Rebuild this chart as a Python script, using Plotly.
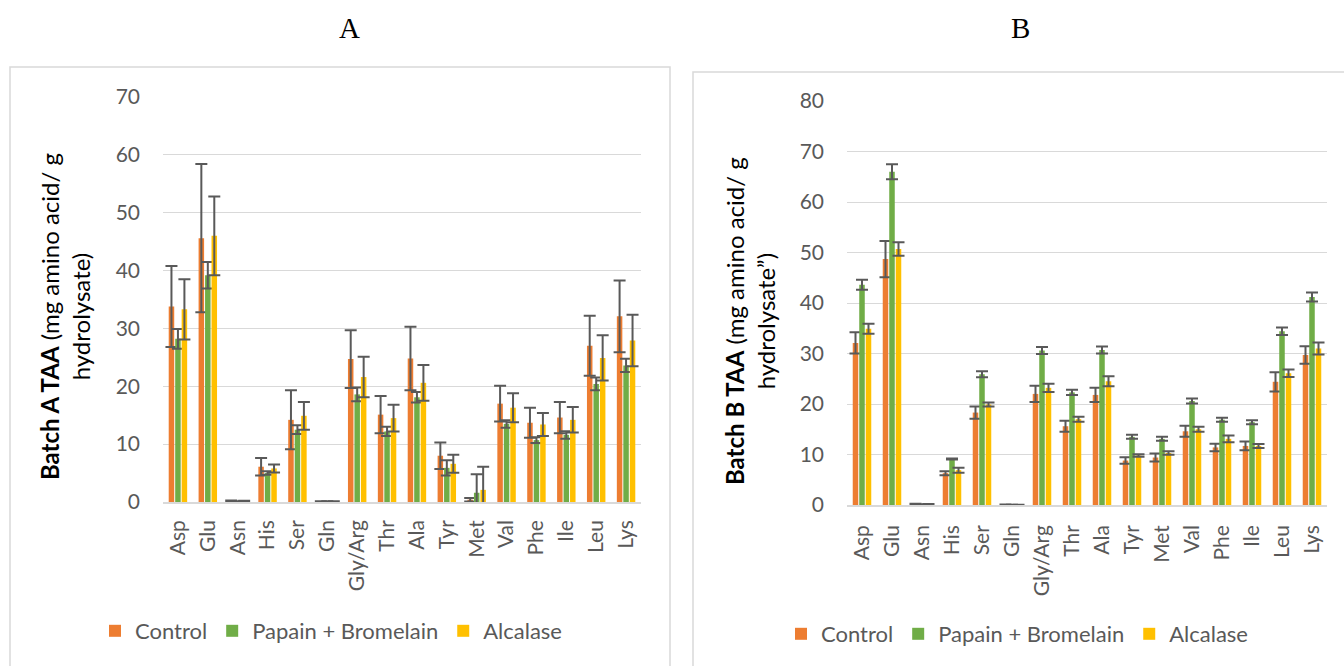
import plotly.graph_objects as go

amino = ["Asp", "Glu", "Asn", "His", "Ser", "Gln", "Gly/Arg", "Thr", "Ala", "Tyr",
         "Met", "Val", "Phe", "Ile", "Leu", "Lys"]
series = ["Control", "Papain + Bromelain", "Alcalase"]
colors = ["#ED7D31", "#70AD47", "#FFC000"]

a_control = [33.8, 45.6, 0.2, 6.1, 14.2, 0.1, 24.7, 15.1, 24.8, 8.0, 0.4, 17.0, 13.7, 14.6, 27.0, 32.1]
a_control_err = [7.0, 12.8, 0.05, 1.5, 5.1, 0.05, 5.0, 3.2, 5.5, 2.3, 0.3, 3.1, 2.6, 2.7, 5.2, 6.2]
a_papain = [28.2, 39.2, 0.1, 5.0, 12.5, 0.1, 18.6, 12.2, 18.1, 5.9, 1.6, 13.5, 10.7, 11.6, 20.4, 23.6]
a_papain_err = [1.7, 2.3, 0.05, 0.3, 0.75, 0.05, 1.2, 0.8, 0.9, 1.3, 3.2, 0.65, 0.5, 0.65, 1.1, 1.15]
a_alcalase = [33.3, 46.0, 0.15, 5.8, 14.9, 0.1, 21.6, 14.5, 20.6, 6.6, 2.1, 16.3, 13.4, 14.2, 24.9, 27.9]
a_alcalase_err = [5.2, 6.8, 0.05, 0.7, 2.4, 0.05, 3.5, 2.3, 3.1, 1.55, 4.0, 2.5, 2.0, 2.2, 3.9, 4.45]

b_control = [32.1, 48.7, 0.2, 6.3, 18.3, 0.1, 22.0, 15.6, 21.8, 8.8, 9.4, 14.6, 11.4, 11.7, 24.4, 29.7]
b_control_err = [2.1, 3.6, 0.05, 0.4, 1.2, 0.02, 1.6, 1.1, 1.4, 0.65, 0.8, 1.1, 0.75, 0.85, 1.9, 1.75]
b_papain = [43.6, 66.0, 0.1, 9.1, 25.9, 0.05, 30.6, 22.3, 30.7, 13.5, 13.1, 20.6, 16.9, 16.4, 34.4, 41.2]
b_papain_err = [1.0, 1.5, 0.05, 0.1, 0.6, 0.02, 0.7, 0.5, 0.7, 0.4, 0.4, 0.5, 0.4, 0.4, 0.75, 0.9]
b_alcalase = [34.9, 50.7, 0.15, 6.9, 19.9, 0.05, 23.2, 17.0, 24.5, 9.8, 10.3, 15.0, 13.1, 11.7, 26.1, 31.0]
b_alcalase_err = [1.0, 1.35, 0.05, 0.5, 0.4, 0.02, 0.8, 0.5, 1.0, 0.25, 0.35, 0.5, 0.65, 0.4, 0.75, 1.2]

a_values = [a_control, a_papain, a_alcalase]
a_errors = [a_control_err, a_papain_err, a_alcalase_err]
b_values = [b_control, b_papain, b_alcalase]
b_errors = [b_control_err, b_papain_err, b_alcalase_err]

FONT = "Lato, 'Open Sans', sans-serif"
GRAY = "#595959"
W, H = 1344, 666

fig = go.Figure()
for i, name in enumerate(series):
    fig.add_trace(go.Bar(
        x=amino, y=a_values[i], name=name, marker_color=colors[i],
        marker_line_width=0,
        error_y=dict(type="data", array=a_errors[i], color=GRAY, thickness=2, width=6),
        xaxis="x", yaxis="y", legend="legend",
    ))
for i, name in enumerate(series):
    fig.add_trace(go.Bar(
        x=amino, y=b_values[i], name=name, marker_color=colors[i],
        marker_line_width=0,
        error_y=dict(type="data", array=b_errors[i], color=GRAY, thickness=2, width=6),
        xaxis="x2", yaxis="y2", legend="legend2",
    ))


def px_x(p):
    return p / W


def px_y(p):
    return 1 - p / H


TICKFONT = dict(family=FONT, size=21, color=GRAY)

fig.update_layout(
    width=W, height=H,
    margin=dict(l=0, r=0, t=0, b=0, pad=0, autoexpand=False),
    paper_bgcolor="white", plot_bgcolor="white",
    barmode="group", bargap=0.35, bargroupgap=0.15,
    font=dict(family=FONT, color=GRAY),
    xaxis=dict(domain=[px_x(163), px_x(641)], anchor="y", tickangle=-90,
               showgrid=False, ticks="", ticklabelstandoff=8, automargin=False,
               showline=True, linecolor="#D9D9D9", linewidth=1.5,
               tickfont=TICKFONT),
    yaxis=dict(domain=[px_y(502), px_y(97)], anchor="x", range=[0, 70], dtick=10,
               showgrid=True, gridcolor="#D9D9D9", gridwidth=1.3, automargin=False,
               ticks="", ticklabelstandoff=22, zeroline=False,
               tickfont=TICKFONT),
    xaxis2=dict(domain=[px_x(847), px_x(1327)], anchor="y2", tickangle=-90,
                showgrid=False, ticks="", ticklabelstandoff=10, automargin=False,
                showline=True, linecolor="#D9D9D9", linewidth=1.5,
                tickfont=TICKFONT),
    yaxis2=dict(domain=[px_y(505), px_y(101)], anchor="x2", range=[0, 80], dtick=10,
                showgrid=True, gridcolor="#D9D9D9", gridwidth=1.3, automargin=False,
                ticks="", ticklabelstandoff=22, zeroline=False,
                tickfont=TICKFONT),
    legend=dict(orientation="h", x=px_x(331), xanchor="center", y=px_y(631), yanchor="middle",
                font=dict(family=FONT, size=22, color=GRAY), bgcolor="rgba(0,0,0,0)"),
    legend2=dict(orientation="h", x=px_x(1017), xanchor="center", y=px_y(634), yanchor="middle",
                 font=dict(family=FONT, size=22, color=GRAY), bgcolor="rgba(0,0,0,0)"),
    shapes=[
        dict(type="rect", xref="paper", yref="paper", x0=px_x(10), x1=px_x(670),
             y0=px_y(680), y1=px_y(67), line=dict(color="#D9D9D9", width=1.5)),
        dict(type="rect", xref="paper", yref="paper", x0=px_x(693), x1=px_x(1350),
             y0=px_y(680), y1=px_y(72), line=dict(color="#D9D9D9", width=1.5)),
    ],
    annotations=[
        dict(text="A", xref="paper", yref="paper", x=px_x(349), y=px_y(28),
             xanchor="center", yanchor="middle", showarrow=False,
             font=dict(family="Liberation Serif, serif", size=29, color="black")),
        dict(text="B", xref="paper", yref="paper", x=px_x(1020), y=px_y(28),
             xanchor="center", yanchor="middle", showarrow=False,
             font=dict(family="Liberation Serif, serif", size=29, color="black")),
        dict(text="<b>Batch A TAA</b> (mg amino acid/ g<br>hydrolysate)", xref="paper", yref="paper",
             x=px_x(65), y=px_y(317), xanchor="center", yanchor="middle",
             showarrow=False, textangle=-90,
             font=dict(family=FONT, size=24, color="black")),
        dict(text="<b>Batch B TAA</b> (mg amino acid/ g<br>hydrolysate\u201d)", xref="paper", yref="paper",
             x=px_x(750), y=px_y(321), xanchor="center", yanchor="middle",
             showarrow=False, textangle=-90,
             font=dict(family=FONT, size=24, color="black")),
    ],
)

fig.write_html("out.html")
